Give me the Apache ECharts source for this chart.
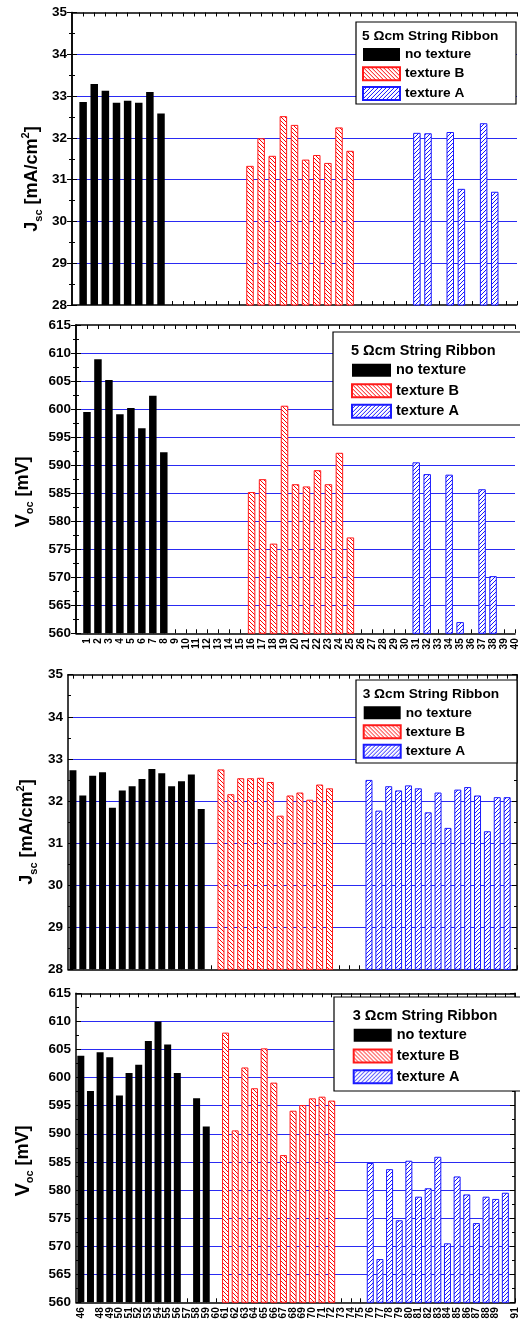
<!DOCTYPE html>
<html>
<head>
<meta charset="utf-8">
<script src="https://cdn.jsdelivr.net/npm/echarts@6/dist/echarts.min.js"></script>
<style>
  html, body { margin: 0; padding: 0; background: #fff; }
  #chart { width: 520px; height: 1327px; }
</style>
</head>
<body>
<div id="chart"></div>
<script>
// cell numbers and measured values, 5 Ohm cm ribbon
const cells5NoTex = [1, 2, 3, 4, 5, 6, 7, 8];
const cells5TexB = [16, 17, 18, 19, 20, 21, 22, 23, 24, 25];
const cells5TexA = [31, 32, 34, 35, 37, 38];
const jsc5NoTex = [32.86, 33.29, 33.13, 32.84, 32.89, 32.84, 33.10, 32.58];
const jsc5TexB = [31.33, 31.99, 31.57, 32.52, 32.31, 31.48, 31.59, 31.40, 32.25, 31.69];
const jsc5TexA = [32.12, 32.11, 32.14, 30.78, 32.35, 30.71];
const voc5NoTex = [599.5, 608.9, 605.2, 599.1, 600.2, 596.6, 602.4, 592.3];
const voc5TexB = [585.2, 587.5, 576.0, 600.6, 586.6, 586.2, 589.1, 586.6, 592.2, 577.1];
const voc5TexA = [590.5, 588.4, 588.3, 562.0, 585.7, 570.2];

// 3 Ohm cm ribbon
const cells3JscNoTex = [46, 47, 48, 49, 50, 51, 52, 53, 54, 55, 56, 57, 58, 59];
const cells3VocNoTex = [46, 47, 48, 49, 50, 51, 52, 53, 54, 55, 56, 58, 59];
const cells3TexB = [61, 62, 63, 64, 65, 66, 67, 68, 69, 70, 71, 72];
const cells3TexA = [76, 77, 78, 79, 80, 81, 82, 83, 84, 85, 86, 87, 88, 89, 90];
const jsc3NoTex = [32.73, 32.13, 32.60, 32.68, 31.84, 32.25, 32.35, 32.52, 32.76, 32.66, 32.35, 32.47, 32.63, 31.81];
const jsc3TexB = [32.75, 32.16, 32.54, 32.54, 32.55, 32.45, 31.65, 32.13, 32.20, 32.03, 32.39, 32.30];
const jsc3TexA = [32.50, 31.77, 32.35, 32.25, 32.37, 32.30, 31.73, 32.20, 31.36, 32.27, 32.33, 32.13, 31.28, 32.09, 32.09];
const voc3NoTex = [603.9, 597.6, 604.5, 603.6, 596.8, 600.8, 602.3, 606.5, 610.0, 605.9, 600.8, 596.3, 591.3];
const voc3TexB = [608.0, 590.6, 601.8, 598.1, 605.2, 599.1, 586.2, 594.1, 595.1, 596.3, 596.6, 595.9];
const voc3TexA = [584.8, 567.7, 583.7, 574.6, 585.2, 578.8, 580.3, 585.9, 570.5, 582.4, 579.2, 574.1, 578.8, 578.4, 579.5];

const range = (a, b) => { const r = []; for (let i = a; i <= b; i++) r.push(i); return r; };
const ticks5 = range(1, 40);
const ticks3 = range(46, 91);

const FONT = 'Liberation Sans, Arial, sans-serif';
const BLUE_GRID = '#2a2af2';

// small hatch tile for the textured bars
function hatch(color, slash) {
  const c = document.createElement('canvas');
  c.width = 4; c.height = 4;
  const ctx = c.getContext('2d');
  ctx.fillStyle = '#fff';
  ctx.fillRect(0, 0, 4, 4);
  ctx.fillStyle = color;
  for (let i = 0; i < 4; i++) ctx.fillRect(slash ? 3 - i : i, i, 1, 1);
  return c;
}
const redHatch = {image: hatch('#ff0000', false), repeat: 'repeat'};
const blueHatch = {image: hatch('#1515ff', true), repeat: 'repeat'};

const panels = [
  {grid: {left: 72, top: 12.5, width: 445, height: 292.5}, x: [0, 40], ticks: ticks5, labels: false,
   y: [28, 35, 1], barW: 7.5,
   data: [[cells5NoTex, jsc5NoTex], [cells5TexB, jsc5TexB], [cells5TexA, jsc5TexA]],
   name: '{b|J}{s|sc}{b| [mA/cm}{p|2}{b|]}', nameX: 32, nameY: 179,
   head: '5 \u03A9cm String Ribbon', box: [356, 22, 160, 82], headY: 29, legTop: 47.5, legLeft: 362, gap: 4.7, fs: 13.7, iw: 37},
  {grid: {left: 76, top: 325, width: 441, height: 308.3}, x: [0, 40], ticks: ticks5, labels: true,
   y: [560, 615, 5], barW: 7.5,
   data: [[cells5NoTex, voc5NoTex], [cells5TexB, voc5TexB], [cells5TexA, voc5TexA]],
   name: '{v|V}{s|oc}{b| [mV]}', nameX: 23, nameY: 492,
   head: '5 \u03A9cm String Ribbon', box: [333, 332, 190, 93], headY: 343, legTop: 362.8, legLeft: 351, gap: 5.5, fs: 14.5, iw: 39},
  {grid: {left: 68, top: 674.7, width: 449, height: 294.6}, x: [45.5, 91], ticks: ticks3, labels: false,
   y: [28, 35, 1], barW: 7,
   data: [[cells3JscNoTex, jsc3NoTex], [cells3TexB, jsc3TexB], [cells3TexA, jsc3TexA]],
   name: '{b|J}{s|sc}{b| [mA/cm}{p|2}{b|]}', nameX: 27, nameY: 832,
   head: '3 \u03A9cm String Ribbon', box: [356, 680, 161, 83], headY: 687, legTop: 705.8, legLeft: 362.7, gap: 4.5, fs: 13.7, iw: 37},
  {grid: {left: 76, top: 993.3, width: 441, height: 309}, x: [45.5, 91], ticks: ticks3, labels: true,
   y: [560, 615, 5], barW: 7,
   data: [[cells3VocNoTex, voc3NoTex], [cells3TexB, voc3TexB], [cells3TexA, voc3TexA]],
   name: '{v|V}{s|oc}{b| [mV]}', nameX: 23, nameY: 1161,
   head: '3 \u03A9cm String Ribbon', box: [334, 997, 190, 94], headY: 1008, legTop: 1027.8, legLeft: 352.7, gap: 5.7, fs: 14.5, iw: 38},
];

const seriesStyle = [
  {name: 'no texture', itemStyle: {color: '#000', borderColor: '#000', borderWidth: 0}},
  {name: 'texture B', itemStyle: {color: redHatch, borderColor: '#ff1a1a', borderWidth: 1}},
  {name: 'texture A', itemStyle: {color: blueHatch, borderColor: '#1a1aff', borderWidth: 1}},
];

const grid = [], xAxis = [], yAxis = [], series = [], legend = [], title = [], graphic = [];

panels.forEach((p, i) => {
  grid.push(p.grid);
  const frame = {lineStyle: {color: '#000', width: 1.5}};
  ['bottom', 'top'].forEach((pos) => {
    xAxis.push({
      gridIndex: i, type: 'value', position: pos, min: p.x[0], max: p.x[1],
      axisLine: frame,
      axisTick: {inside: true, length: 4, customValues: p.ticks, lineStyle: {color: '#000'}},
      axisLabel: {
        show: pos === 'bottom' && p.labels, customValues: p.ticks, rotate: 90, margin: 5,
        showMinLabel: true, showMaxLabel: true, hideOverlap: false,
        fontFamily: FONT, fontWeight: 'bold', fontSize: 10, color: '#000',
      },
      splitLine: {show: false},
    });
  });
  ['left', 'right'].forEach((pos) => {
    yAxis.push({
      gridIndex: i, type: 'value', position: pos, min: p.y[0], max: p.y[1], interval: p.y[2],
      axisLine: frame,
      axisTick: {inside: true, length: 5, lineStyle: {color: '#000'}},
      minorTick: {show: true, splitNumber: 2, length: 3, lineStyle: {color: '#000'}},
      axisLabel: {
        show: pos === 'left', margin: 5,
        fontFamily: FONT, fontWeight: 'bold', fontSize: 13.5, color: '#000',
      },
      splitLine: {
        show: pos === 'left', showMinLine: false, showMaxLine: false,
        lineStyle: {color: BLUE_GRID, width: 1.2},
      },
    });
  });
  p.data.forEach(([cells, vals], k) => {
    series.push({
      type: 'bar', name: seriesStyle[k].name, xAxisIndex: 2 * i, yAxisIndex: 2 * i,
      barWidth: p.barW, barGap: '-100%', itemStyle: seriesStyle[k].itemStyle, z: 2,
      data: cells.map((c, j) => [c, vals[j]]),
    });
  });
  legend.push({
    left: p.legLeft, top: p.legTop, orient: 'vertical', icon: 'rect', padding: 0,
    itemWidth: p.iw, itemHeight: 13, itemGap: p.gap, selectedMode: false, z: 5,
    textStyle: {fontFamily: FONT, fontWeight: 'bold', fontSize: p.fs, color: '#000'},
    data: ['no texture', 'texture B', 'texture A'],
  });
  title.push({
    text: p.head, left: p.legLeft, top: p.headY, padding: 0, z: 6,
    textStyle: {fontFamily: FONT, fontWeight: 'bold', fontSize: p.fs, color: '#000'},
  });
  graphic.push({
    type: 'rect', z: 3,
    shape: {x: p.box[0], y: p.box[1], width: p.box[2], height: p.box[3]},
    style: {fill: '#fff', stroke: '#000', lineWidth: 1.2},
  });
  graphic.push({
    type: 'text', z: 3, x: p.nameX, y: p.nameY, rotation: Math.PI / 2,
    style: {
      text: p.name, align: 'center', verticalAlign: 'middle', fill: '#000',
      rich: {
        b: {fontFamily: FONT, fontWeight: 'bold', fontSize: 18, lineHeight: 24, verticalAlign: 'middle'},
        v: {fontFamily: FONT, fontWeight: 'bold', fontSize: 20, lineHeight: 24, verticalAlign: 'middle'},
        s: {fontFamily: FONT, fontWeight: 'bold', fontSize: 11, lineHeight: 12, verticalAlign: 'bottom'},
        p: {fontFamily: FONT, fontWeight: 'bold', fontSize: 11, lineHeight: 12, verticalAlign: 'top'},
      },
    },
  });
});

const chart = echarts.init(document.getElementById('chart'));
chart.setOption({
  animation: false,
  backgroundColor: '#fff',
  grid, xAxis, yAxis, series, legend, title, graphic,
});
</script>
</body>
</html>
